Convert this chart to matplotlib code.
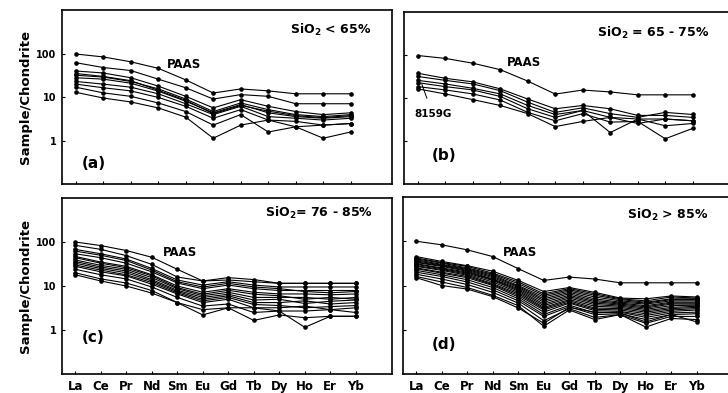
"""
REE spider diagrams, 4 panels by SiO2 range
"""

import matplotlib
matplotlib.use("Agg")
import matplotlib.pyplot as plt

plt.rcParams["font.family"] = ["DejaVu Sans"]
plt.rcParams["font.weight"] = "bold"
plt.rcParams["mathtext.fontset"] = "custom"
plt.rcParams["mathtext.rm"] = "DejaVu Sans:bold"
plt.rcParams["mathtext.bf"] = "DejaVu Sans:bold"
plt.rcParams["mathtext.it"] = "DejaVu Sans:bold"

# 元素 (上排圖只有 11 個點)
ree_full = ["La", "Ce", "Pr", "Nd", "Sm", "Eu", "Gd", "Tb", "Dy", "Ho", "Er", "Yb"]
ree_top = ["La", "Ce", "Pr", "Nd", "Sm", "Eu", "Gd", "Tb", "Dy", "Ho", "Yb"]

paas_top = [98, 84, 65, 46, 25, 12.5, 15.5, 14, 12, 12, 12]
paas_full = [100, 83, 64, 45, 24, 13, 15.5, 14, 11.5, 11.5, 11.5, 11.5]

# (a) SiO2 < 65%
samples_a = [
    [62, 48, 41, 26, 16.5, 9.1, 11.5, 10.5, 7.1, 7.1, 7.1],
    [40, 36, 28, 18, 10.5, 5.7, 8.8, 6.2, 4.7, 4.0, 4.4],
    [35, 30, 24, 14.5, 8.5, 4.2, 6.5, 4.8, 3.8, 3.4, 3.8],
    [32, 29, 23, 15.6, 9.1, 4.7, 7.4, 5.2, 4.0, 3.6, 4.0],
    [28, 26, 21, 13.8, 8.1, 4.4, 6.8, 4.4, 3.6, 3.3, 3.6],
    [23, 20, 17, 12, 7.1, 4.0, 6.2, 3.6, 3.3, 3.0, 3.3],
    [20, 16.5, 14, 9.9, 6.2, 3.3, 5.2, 3.0, 2.8, 2.3, 2.5],
    [17, 12.6, 10.5, 7.4, 4.7, 2.3, 4.0, 1.6, 2.1, 2.3, 2.5],
    [13, 9.6, 7.8, 5.7, 3.5, 1.15, 2.3, 3.0, 2.1, 1.15, 1.6],
]

# (b) SiO2 = 65 - 75%
samples_b = [
    [38, 29, 24, 16.5, 9.6, 5.7, 6.8, 5.7, 4.0, 4.0, 3.6],
    [32, 26, 21.5, 15, 8.1, 4.7, 6.0, 4.4, 3.6, 4.7, 4.2],
    [26, 21.5, 17, 12.6, 6.8, 4.2, 5.2, 3.6, 3.3, 3.3, 3.0],
    [23, 18.6, 15.6, 11, 5.7, 3.6, 5.2, 1.6, 3.3, 2.3, 2.6],
    [18.6, 15.6, 12.6, 9.1, 4.7, 3.0, 4.4, 2.8, 2.9, 1.15, 2.0],
    [16.5, 12.6, 9.3, 6.8, 4.4, 2.2, 2.9, 3.6, 2.6, 3.3, 3.0],
]

# (c) SiO2 = 76 - 85%
samples_c = [
    [84, 68, 49, 31, 16, 13, 13.7, 12.5, 11.5, 11.5, 11.5, 11.5],
    [68, 54, 41, 25, 13.7, 10.5, 12.5, 10.5, 9.5, 9.5, 9.5, 9.5],
    [62, 50, 38, 23, 12.5, 9.5, 11.5, 9.5, 8.7, 7.5, 7.0, 7.5],
    [54, 44, 33, 21, 11.7, 8.7, 10.5, 8.7, 7.9, 7.9, 7.9, 7.9],
    [47, 35, 28, 18, 10, 7.2, 8.7, 7.2, 6.6, 6.6, 6.3, 6.6],
    [44, 33, 26, 17, 9.2, 6.5, 8.0, 6.5, 6.0, 5.0, 5.5, 5.0],
    [39, 29.5, 24, 15.5, 8.7, 6.0, 7.2, 5.5, 5.5, 5.5, 5.0, 5.5],
    [36, 27, 22, 14, 8.0, 5.5, 6.5, 4.8, 5.0, 4.0, 4.5, 4.8],
    [33, 25, 20, 13, 7.5, 5.0, 6.0, 4.2, 4.2, 4.6, 3.9, 4.2],
    [30, 23, 18, 12, 7.0, 4.6, 5.5, 3.8, 3.6, 3.2, 3.4, 3.6],
    [28, 21, 17, 11, 6.6, 4.2, 5.0, 3.2, 3.2, 3.5, 2.9, 3.2],
    [24, 18, 14.5, 9.5, 5.5, 3.5, 3.9, 2.5, 2.7, 2.7, 2.9, 2.5],
    [20, 14.5, 11.7, 7.9, 4.2, 2.9, 3.2, 1.65, 2.2, 1.9, 2.05, 2.05],
    [18, 13, 10, 6.9, 4.2, 2.2, 3.2, 3.2, 2.7, 1.15, 2.05, 2.05],
]

# (d) SiO2 > 85%
samples_d = [
    [45, 35, 28, 21, 13, 7.3, 9.0, 7.0, 5.2, 5.0, 5.8, 5.5],
    [42, 33, 27, 19, 12, 6.5, 8.5, 6.5, 5.0, 4.5, 5.5, 5.2],
    [40, 32, 25, 18, 11, 6.0, 8.0, 6.0, 4.8, 4.2, 5.0, 5.0],
    [38, 30, 24, 17, 10, 5.5, 7.5, 5.5, 4.5, 4.0, 4.8, 4.8],
    [36, 29, 23, 16, 9.5, 5.0, 7.0, 5.0, 4.2, 3.8, 4.5, 4.5],
    [34, 28, 22, 15, 9.0, 4.6, 6.5, 4.6, 4.0, 3.5, 4.2, 4.2],
    [33, 27, 21, 14, 8.5, 4.2, 6.0, 4.3, 3.8, 3.3, 4.0, 4.0],
    [31, 25, 20, 13.5, 8.0, 3.8, 5.6, 4.0, 3.6, 3.1, 3.8, 3.8],
    [30, 24, 19, 13, 7.5, 3.5, 5.2, 3.7, 3.4, 2.9, 3.5, 3.6],
    [28, 23, 18, 12, 7.0, 3.2, 4.8, 3.4, 3.2, 2.7, 3.2, 3.4],
    [27, 22, 17, 11, 6.5, 3.0, 4.5, 3.1, 3.0, 2.5, 3.0, 3.2],
    [25, 20, 16, 10.5, 6.0, 2.8, 4.2, 2.9, 2.8, 2.3, 2.8, 3.0],
    [24, 19, 15, 10, 5.5, 2.5, 4.0, 2.7, 2.6, 2.1, 2.6, 2.8],
    [22, 17.5, 13.5, 9.0, 5.0, 2.2, 3.6, 2.4, 2.5, 1.9, 2.4, 2.5],
    [20, 16, 12, 8.0, 4.5, 2.0, 3.3, 2.2, 2.3, 1.7, 2.2, 2.3],
    [18, 14, 10.5, 7.0, 4.0, 1.6, 3.0, 1.9, 2.2, 1.4, 2.0, 2.0],
    [16, 12, 9.0, 6.0, 3.5, 1.2, 2.8, 1.7, 2.2, 1.15, 1.8, 1.7],
    [15, 10, 8.3, 5.6, 3.1, 1.4, 3.2, 2.5, 2.4, 1.5, 2.2, 1.5],
]

titles = ["SiO$_2$ < 65%", "SiO$_2$ = 65 - 75%", "SiO$_2$= 76 - 85%", "SiO$_2$ > 85%"]
tags = ["(a)", "(b)", "(c)", "(d)"]

W, H = 728, 393
fig = plt.figure(figsize=(W / 100, H / 100), dpi=100)


def px_axes(x0, y0, x1, y1):
    """以像素座標建立子圖"""
    return fig.add_axes([x0 / W, 1 - y1 / H, (x1 - x0) / W, (y1 - y0) / H])


ax_a = px_axes(62, 10, 392, 184.5)
ax_b = px_axes(404, 12, 734, 184.5)
ax_c = px_axes(62, 198, 392, 374)
ax_d = px_axes(403, 197, 733, 374)


def draw_panel(ax, elements, paas, samples, bottom_row, left_col):
    x = list(range(len(elements)))
    for s in samples:
        ax.plot(x, s, color="black", lw=0.8, marker="o", ms=2.3)
    ax.plot(x, paas, color="black", lw=0.8, marker="o", ms=2.3)

    ax.set_yscale("log")
    ax.set_ylim(0.1, 1000)
    ax.set_yticks([1, 10, 100])
    ax.minorticks_off()
    if left_col:
        ax.set_yticklabels(["1", "10", "100"], fontsize=7, fontweight="bold")
        ax.set_ylabel("Sample/Chondrite", fontsize=9.5, fontweight="bold")
        ax.yaxis.set_label_coords(-0.09, 0.5)
    else:
        ax.set_yticklabels([])

    ax.set_xticks(x)
    if bottom_row:
        ax.set_xlim(-0.52, 12.42)
        ax.set_xticklabels(elements, fontsize=8.5, fontweight="bold")
    else:
        ax.set_xlim(-0.5, 11.5)
        ax.set_xticklabels([])

    ax.tick_params(direction="in", length=2.5, width=0.8, pad=4)
    for sp in ax.spines.values():
        sp.set_linewidth(1.2)


draw_panel(ax_a, ree_top, paas_top, samples_a, False, True)
draw_panel(ax_b, ree_top, paas_top, samples_b, False, False)
draw_panel(ax_c, ree_full, paas_full, samples_c, True, True)
draw_panel(ax_d, ree_full, paas_full, samples_d, True, False)

# 標題與標註
title_pos = [(0.69, 0.885), (0.585, 0.878), (0.615, 0.915), (0.68, 0.898)]
tag_pos = [(0.06, 0.123), (0.085, 0.17), (0.06, 0.206), (0.088, 0.164)]
paas_pos = [(0.318, 0.685), (0.312, 0.71), (0.306, 0.6875), (0.303, 0.684)]

for ax, t, tg, tp, gp, pp in zip([ax_a, ax_b, ax_c, ax_d], titles, tags,
                                 title_pos, tag_pos, paas_pos):
    ax.text(tp[0], tp[1], t, transform=ax.transAxes, fontsize=9,
            fontweight="bold", ha="left", va="center")
    ax.text(gp[0], gp[1], tg, transform=ax.transAxes, fontsize=11,
            fontweight="bold", ha="left", va="center")
    ax.text(pp[0], pp[1], "PAAS", transform=ax.transAxes, fontsize=8.5,
            fontweight="bold", ha="left", va="center")

ax_b.annotate("8159G", xy=(0.15, 21), xycoords="data",
              xytext=(0.03, 0.409), textcoords="axes fraction",
              fontsize=7.5, fontweight="bold", ha="left", va="center",
              arrowprops=dict(arrowstyle="-", lw=0.7, color="black",
                              shrinkA=6, shrinkB=0))

fig.savefig("out.png", dpi=100)
plt.close(fig)
